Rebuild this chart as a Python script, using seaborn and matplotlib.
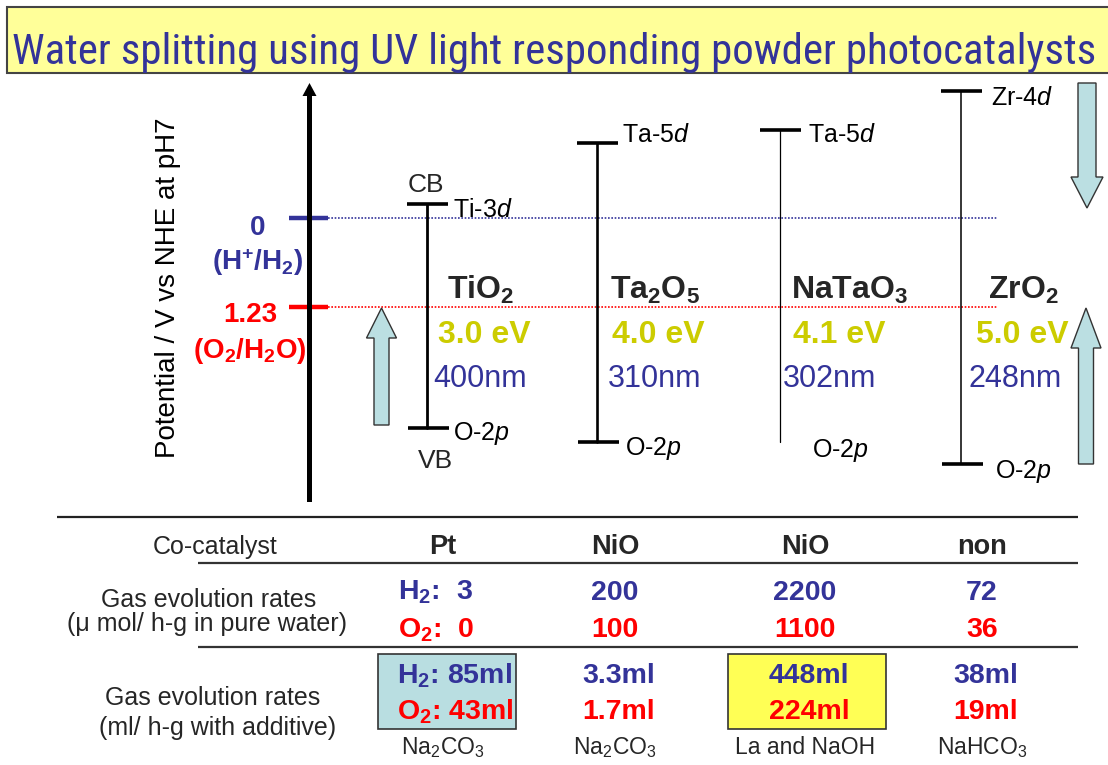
import re
import numpy as np
import pandas as pd
import matplotlib
matplotlib.use("Agg")
import matplotlib.pyplot as plt
from matplotlib import font_manager as fm
from matplotlib.patches import Rectangle, FancyArrow
import seaborn as sns

# ---------------- data ----------------
materials = ["TiO2", "Ta2O5", "NaTaO3", "ZrO2"]
cb_potential = [-0.20, -1.04, -1.22, -1.75]   # V vs NHE (pH7)
vb_potential = [2.90, 3.10, 3.10, 3.40]
band_gap_ev = [3.0, 4.0, 4.1, 5.0]
wavelength_nm = [400, 310, 302, 248]
cb_orbital = ["Ti-3d", "Ta-5d", "Ta-5d", "Zr-4d"]
vb_orbital = ["O-2p", "O-2p", "O-2p", "O-2p"]
vb_cap_drawn = [True, True, False, True]
redox_potentials = [0.0, 1.23]
redox_values = ["0", "1.23"]
redox_couples = ["(H+/H2)", "(O2/H2O)"]

cocatalyst = ["Pt", "NiO", "NiO", "non"]
h2_pure = [3, 200, 2200, 72]
o2_pure = [0, 100, 1100, 36]
h2_additive = [85, 3.3, 448, 38]
o2_additive = [43, 1.7, 224, 19]
additive = ["Na2CO3", "Na2CO3", "La and NaOH", "NaHCO3"]

title = "Water splitting using UV light responding powder photocatalysts"
ylabel = "Potential / V vs NHE at pH7"
row_labels = ["Co-catalyst",
              ["Gas evolution rates", "(\u03bc mol/ h-g in pure water)"],
              ["Gas evolution rates", "(ml/ h-g with additive)"]]

# ---------------- style ----------------
sns.set_theme(style="white")
plt.rcParams["font.family"] = ["Liberation Sans", "DejaVu Sans"]
plt.rcParams["mathtext.fontset"] = "custom"
plt.rcParams["mathtext.rm"] = "Liberation Sans"
plt.rcParams["mathtext.it"] = "Liberation Sans:italic"
plt.rcParams["mathtext.bf"] = "Liberation Sans:bold"

BLUE = "#333399"
RED = "#FF0000"
GOLD = "#CCCC00"
ARROW_FC = "#BBDFE2"

W, H = 1108, 765
fig = plt.figure(figsize=(W / 100, H / 100), dpi=100)
fig.patch.set_facecolor("white")

# potential axes (y in volts, inverted)
PX0, PXV = 218.0, 72.36
ax = fig.add_axes([0, 0, 1, 1])
ax.set_xlim(0, W)
ax.set_ylim((H - PX0) / PXV, (0 - PX0) / PXV)
ax.axis("off")

# layout overlay (pixel coordinates)
lay = fig.add_axes([0, 0, 1, 1], facecolor="none")
lay.set_xlim(0, W)
lay.set_ylim(H, 0)
lay.axis("off")


def chem(s, bold=False):
    if bold:
        return re.sub(r"(\d)", lambda m: r"$_\mathbf{%s}$" % m.group(1), s)
    return re.sub(r"(\d)", lambda m: r"$_{%s}$" % m.group(1), s)


def orbital(s):
    a, b = s.split("-")
    return a + "-" + r"$\mathit{%s}$" % b


def condensed_font():
    """Find a narrow / condensed sans font file if one is installed."""
    prefs = ["Liberation Sans Narrow", "Arial Narrow", "Roboto Condensed",
             "Noto Sans", "Open Sans", "Roboto", "DejaVu Sans"]
    found = []
    for f in fm.fontManager.ttflist:
        nm = f.name
        fn = f.fname.lower()
        narrow = ("narrow" in nm.lower() or "condensed" in nm.lower()
                  or "condensed" in fn or "narrow" in fn
                  or str(f.stretch) in ("condensed", "semi-condensed", "extra-condensed"))
        if not narrow or f.style != "normal":
            continue
        if "bold" in fn or "light" in fn or "thin" in fn or "black" in fn or "medium" in fn \
                or "semi" in fn.replace("semicondensed", "").replace("semi-condensed", "") \
                or "extra" in fn.replace("extracondensed", "") or "italic" in fn:
            continue
        if "extracondensed" in fn or "ultra" in fn:
            continue
        rank = next((i for i, p in enumerate(prefs) if nm.startswith(p)), len(prefs))
        found.append((rank, fn, f.fname))
    if found:
        found.sort()
        return fm.FontProperties(fname=found[0][2])
    return None


# ---------------- title ----------------
lay.add_patch(Rectangle((7, 7), 1110, 66, facecolor="#FFFF99", edgecolor="#444444", lw=1.5, zorder=1))
fp = condensed_font()
if fp is not None:
    t_title = lay.text(12, 64, title, color=BLUE, va="baseline", ha="left", fontproperties=fp, zorder=2)
    t_title.set_fontsize(29)
else:
    t_title = lay.text(12, 64, title, color=BLUE, fontsize=29, va="baseline", ha="left", zorder=2)
fig.canvas.draw()
wt = t_title.get_window_extent().width
t_title.set_fontsize(min(t_title.get_fontsize() * 1085 / wt, 31))

# ---------------- potential axis ----------------
lay.add_patch(FancyArrow(309.5, 502, 0, -419, width=5, head_width=14, head_length=13,
                         length_includes_head=True, fc="black", ec="black", lw=0))
lay.text(168, 288, ylabel, rotation=90, ha="center", va="center", fontsize=20, color="black")

axis_x0, axis_x1, dot_x1 = 289, 328, 997
redox_colors = [BLUE, RED]
ax.hlines(redox_potentials, axis_x0, axis_x1, colors=redox_colors, lw=3.2, zorder=3)
for p, c in zip(redox_potentials, redox_colors):
    ax.hlines(p, axis_x1, dot_x1, colors=c, lw=1.2, linestyles=(0, (1, 1)), zorder=2)

redox_val_xy = [(258, 235), (250, 322)]
redox_cpl_xy = [(258, 270), (250, 358)]
for v, cp, (vx, vy), (cx, cy), c in zip(redox_values, redox_couples, redox_val_xy, redox_cpl_xy, redox_colors):
    lay.text(vx, vy, v, color=c, fontsize=20, fontweight="bold", ha="center", va="baseline")
    s = cp.replace("H+", r"H$^\mathbf{+}$")
    s = re.sub(r"(\d)", lambda m: r"$_\mathbf{%s}$" % m.group(1), s)
    lay.text(cx, cy, s, color=c, fontsize=20, fontweight="bold", ha="center", va="baseline")

# ---------------- band diagram ----------------
band_x = [427, 597, 780, 961]
band_lw = {"TiO2": 2.0, "Ta2O5": 1.9, "NaTaO3": 0.9, "ZrO2": 1.1}
df = pd.DataFrame({
    "material": materials * 2,
    "x": band_x * 2,
    "potential": cb_potential + vb_potential,
})
sns.lineplot(data=df, x="x", y="potential", units="material", estimator=None, sort=False,
             size="material", sizes=band_lw, color="black", legend=False, ax=ax, zorder=4)
ax.set_xlim(0, W)
ax.set_ylim((H - PX0) / PXV, (0 - PX0) / PXV)
ax.axis("off")

cap_half = 20
for x, cb, vb, draw_vb in zip(band_x, cb_potential, vb_potential, vb_cap_drawn):
    ax.hlines(cb, x - cap_half, x + cap_half + 1, colors="black", lw=2.6, zorder=5)
    if draw_vb:
        ax.hlines(vb, x - cap_half + 1, x + cap_half + 2, colors="black", lw=2.6, zorder=5)

cb_lab_xy = [(453, 217), (622, 142), (808, 142), (991, 105)]
vb_lab_xy = [(453, 440), (625, 455), (812, 457), (995, 478)]
for s, (x, y) in zip(cb_orbital, cb_lab_xy):
    lay.text(x, y, orbital(s), fontsize=18, ha="left", va="baseline", color="black")
for s, (x, y) in zip(vb_orbital, vb_lab_xy):
    lay.text(x, y, orbital(s), fontsize=18, ha="left", va="baseline", color="black")
lay.text(426, 192, "CB", fontsize=19, ha="center", va="baseline")
lay.text(435, 468, "VB", fontsize=19, ha="center", va="baseline")

name_x = [481, 655, 850, 1023]
ev_x = [484, 658, 839, 1022]
nm_x = [480, 655, 830, 1015]
for m, g, nm, xn, xe, xw in zip(materials, band_gap_ev, wavelength_nm, name_x, ev_x, nm_x):
    lay.text(xn, 299, chem(m, bold=True), fontsize=23, fontweight="bold", ha="center", va="baseline", zorder=6)
    lay.text(xe, 343, f"{g:.1f} eV", fontsize=23, fontweight="bold", color=GOLD, ha="center", va="baseline", zorder=6)
    lay.text(xw, 387, f"{nm}nm", fontsize=22, color=BLUE, ha="center", va="baseline", zorder=6)

# light-blue arrows
arrow_kw = dict(length_includes_head=True, fc=ARROW_FC, ec="#333333", lw=1.0, zorder=5)
lay.add_patch(FancyArrow(381.5, 425, 0, -117, width=15, head_width=30, head_length=30, **arrow_kw))
lay.add_patch(FancyArrow(1087, 83, 0, 125, width=18, head_width=32, head_length=31, **arrow_kw))
lay.add_patch(FancyArrow(1086, 464, 0, -156, width=15, head_width=30, head_length=40, **arrow_kw))

# ---------------- table ----------------
lay.hlines(517, 57, 1078, colors="#222222", lw=1.6)
lay.hlines([563, 647], 198, 1078, colors="#333333", lw=1.6)

lay.add_patch(Rectangle((378, 654), 138, 75, facecolor="#B9DEE1", edgecolor="#333333", lw=1.2))
lay.add_patch(Rectangle((728, 654), 158, 75, facecolor="#FFFF55", edgecolor="#333333", lw=1.2))

lay.text(215, 554, row_labels[0], fontsize=18, ha="center", va="baseline")
lay.text(209, 607, row_labels[1][0], fontsize=18, ha="center", va="baseline")
lay.text(207, 631, row_labels[1][1], fontsize=18, ha="center", va="baseline")
lay.text(213, 705, row_labels[2][0], fontsize=18, ha="center", va="baseline")
lay.text(218, 735, row_labels[2][1], fontsize=18, ha="center", va="baseline")

col_x = [443, 615, 805, 982]
h2p = r"H$_\mathbf{2}$:"
o2p = r"O$_\mathbf{2}$:"
for i, (cc, hp, op, ha_, oa, ad, cx) in enumerate(zip(cocatalyst, h2_pure, o2_pure, h2_additive,
                                                    o2_additive, additive, col_x)):
    lay.text(cx, 554, cc, fontsize=19.5, fontweight="bold", ha="center", va="baseline")
    if i == 0:
        lay.text(398, 600, f"{h2p}  {hp}", fontsize=20.5, fontweight="bold", color=BLUE, ha="left", va="baseline")
        lay.text(398, 637, f"{o2p}  {op}", fontsize=20.5, fontweight="bold", color=RED, ha="left", va="baseline")
        lay.text(397, 683, f"{h2p} {ha_:g}ml", fontsize=20.5, fontweight="bold", color=BLUE, ha="left", va="baseline")
        lay.text(397, 719, f"{o2p} {oa:g}ml", fontsize=20.5, fontweight="bold", color=RED, ha="left", va="baseline")
    else:
        lay.text(cx, 600, f"{hp}", fontsize=20.5, fontweight="bold", color=BLUE, ha="center", va="baseline")
        lay.text(cx, 637, f"{op}", fontsize=20.5, fontweight="bold", color=RED, ha="center", va="baseline")
        lay.text(cx + 4, 683, f"{ha_:g}ml", fontsize=20.5, fontweight="bold", color=BLUE, ha="center", va="baseline")
        lay.text(cx + 4, 719, f"{oa:g}ml", fontsize=20.5, fontweight="bold", color=RED, ha="center", va="baseline")
    lay.text(cx, 754, chem(ad), fontsize=16.5, ha="center", va="baseline")

fig.savefig("out.png", dpi=100, facecolor="white")
